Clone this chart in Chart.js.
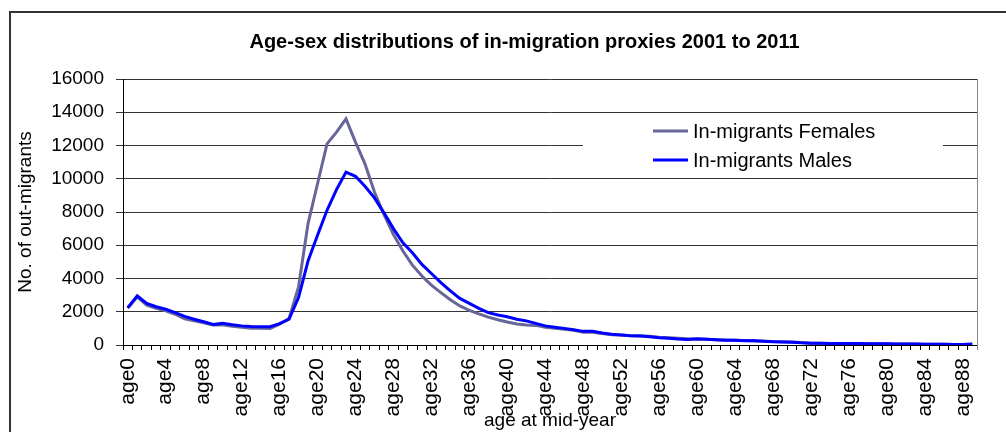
<!DOCTYPE html>
<html>
<head>
<meta charset="utf-8">
<title>Age-sex distributions of in-migration proxies 2001 to 2011</title>
<script src="https://cdn.jsdelivr.net/npm/chart.js@4.4.1/dist/chart.umd.min.js"></script>
<style>
    html, body { margin: 0; padding: 0; background: #fff; overflow: hidden; }
    #frame { position: absolute; left: 9px; top: 11px; width: 1100px; height: 500px; border: 2px solid #333; }
    #wrap { position: absolute; left: 0; top: 0; width: 1006px; height: 432px; }
</style>
</head>
<body>
<div id="frame"></div>
<div id="wrap"><canvas id="migration-chart"></canvas></div>
<script>
// Categories (single years of age)
const ages = [
    'age0', 'age1', 'age2', 'age3', 'age4', 'age5', 'age6', 'age7', 'age8', 'age9',
    'age10', 'age11', 'age12', 'age13', 'age14', 'age15', 'age16', 'age17', 'age18', 'age19',
    'age20', 'age21', 'age22', 'age23', 'age24', 'age25', 'age26', 'age27', 'age28', 'age29',
    'age30', 'age31', 'age32', 'age33', 'age34', 'age35', 'age36', 'age37', 'age38', 'age39',
    'age40', 'age41', 'age42', 'age43', 'age44', 'age45', 'age46', 'age47', 'age48', 'age49',
    'age50', 'age51', 'age52', 'age53', 'age54', 'age55', 'age56', 'age57', 'age58', 'age59',
    'age60', 'age61', 'age62', 'age63', 'age64', 'age65', 'age66', 'age67', 'age68', 'age69',
    'age70', 'age71', 'age72', 'age73', 'age74', 'age75', 'age76', 'age77', 'age78', 'age79',
    'age80', 'age81', 'age82', 'age83', 'age84', 'age85', 'age86', 'age87', 'age88', 'age89'
];

// In-migrants, females
const females = [
    2200, 2900, 2400, 2200, 2050, 1850, 1580, 1450, 1330, 1200,
    1220, 1130, 1060, 1010, 1000, 1000, 1250, 1600, 3500, 7300,
    9700, 12100, 12800, 13600, 12200, 10900, 9200, 7850, 6650, 5650,
    4800, 4150, 3600, 3150, 2720, 2350, 2080, 1870, 1680, 1520,
    1380, 1260, 1200, 1180, 1060, 1000, 950, 880, 760, 760,
    690, 620, 600, 560, 550, 520, 470, 440, 410, 370,
    350, 340, 320, 300, 280, 270, 250, 230, 210, 200,
    180, 150, 110, 100, 95, 90, 90, 85, 80, 75,
    70, 65, 60, 55, 50, 45, 40, 35, 30, 40
];

// In-migrants, males
const males = [
    2250, 2950, 2500, 2300, 2150, 1950, 1720, 1550, 1400, 1230,
    1300, 1220, 1150, 1110, 1100, 1100, 1280, 1550, 2850, 5050,
    6600, 8100, 9350, 10400, 10150, 9550, 8850, 7950, 7000, 6150,
    5550, 4850, 4300, 3750, 3250, 2800, 2500, 2200, 1950, 1800,
    1700, 1550, 1450, 1300, 1150, 1070, 1000, 920, 820, 830,
    720, 640, 600, 560, 540, 500, 430, 410, 360, 330,
    380, 340, 310, 290, 290, 260, 250, 220, 190, 180,
    170, 130, 110, 100, 95, 90, 90, 85, 80, 75,
    70, 65, 60, 55, 50, 45, 40, 35, 30, 60
];

const seriesLabels = ['In-migrants Females', 'In-migrants Males'];
const seriesColors = ['#666699', '#0000ff'];

const FONT = 'Arial, "Liberation Sans", sans-serif';
Chart.defaults.font.family = FONT;
Chart.defaults.color = '#000';

/**
 * Legend drawn inside the plot area on a white box (Excel style)
 */
const insideLegend = {
    id: 'insideLegend',
    afterLayout(chart, args, opts) {
        // the chart title is centred over the whole frame, not only the canvas box
        if (chart.titleBlock) {
            chart.titleBlock.left += opts.titleShift;
        }
    },
    beforeDatasetsDraw(chart, args, opts) {
        const ctx = chart.ctx;
        const area = chart.chartArea;
        const x0 = area.left + opts.offsetX;
        const y0 = area.top + opts.offsetY;

        ctx.save();
        ctx.fillStyle = '#fff';
        ctx.fillRect(x0, y0, opts.width, opts.height);

        ctx.font = opts.fontSize + 'px ' + FONT;
        ctx.textBaseline = 'middle';
        ctx.fillStyle = '#000';
        chart.data.datasets.forEach((ds, i) => {
            const y = y0 + opts.firstRow + i * opts.rowGap;
            ctx.strokeStyle = ds.borderColor;
            ctx.lineWidth = 3;
            ctx.beginPath();
            ctx.moveTo(x0 + opts.lineStart, y);
            ctx.lineTo(x0 + opts.lineStart + opts.lineLength, y);
            ctx.stroke();
            ctx.fillText(ds.label, x0 + opts.lineStart + opts.lineLength + 5, y + 1);
        });
        ctx.restore();
    },
    afterDraw(chart) {
        // gray frame line on the right side of the plot area
        const ctx = chart.ctx;
        const area = chart.chartArea;
        ctx.save();
        ctx.strokeStyle = '#888';
        ctx.lineWidth = 1;
        ctx.beginPath();
        ctx.moveTo(Math.round(area.right) + 0.5, area.top);
        ctx.lineTo(Math.round(area.right) + 0.5, area.bottom + 5);
        ctx.stroke();
        ctx.restore();
    }
};

const ctx = document.getElementById('migration-chart').getContext('2d');
const migrationChart = new Chart(ctx, {
    type: 'line',
    data: {
        labels: ages,
        datasets: [
            {
                label: seriesLabels[0],
                data: females,
                borderColor: seriesColors[0],
                backgroundColor: seriesColors[0],
                borderWidth: 3,
                pointRadius: 0,
                tension: 0,
                order: 1
            },
            {
                label: seriesLabels[1],
                data: males,
                borderColor: seriesColors[1],
                backgroundColor: seriesColors[1],
                borderWidth: 3,
                pointRadius: 0,
                tension: 0,
                order: 0
            }
        ]
    },
    options: {
        responsive: true,
        maintainAspectRatio: false,
        animation: false,
        layout: { padding: { left: 0, right: 29, top: 0, bottom: 0 } },
        plugins: {
            legend: { display: false },
            tooltip: { enabled: false },
            title: {
                display: true,
                text: 'Age-sex distributions of in-migration proxies 2001 to 2011',
                color: '#000',
                font: { size: 20, weight: 'bold' },
                padding: { top: 30, bottom: 25 }
            },
            insideLegend: {
                titleShift: 72,
                offsetX: 460,
                offsetY: 36,
                width: 360,
                height: 61,
                lineStart: 70,
                lineLength: 35,
                firstRow: 16,
                rowGap: 29,
                fontSize: 20
            }
        },
        scales: {
            x: {
                offset: true,
                afterFit: function(scale) { scale.height = 87; },
                grid: {
                    offset: true,
                    drawOnChartArea: false,
                    drawTicks: true,
                    tickLength: 5,
                    color: '#000'
                },
                border: { display: true, color: '#000', width: 1 },
                ticks: {
                    autoSkip: false,
                    maxRotation: 90,
                    minRotation: 90,
                    padding: 8,
                    font: { size: 21 },
                    callback: function(value, index) {
                        return index % 4 === 0 ? this.getLabelForValue(value) : '';
                    }
                },
                title: {
                    display: true,
                    text: 'age at mid-year',
                    font: { size: 19 },
                    padding: 0
                }
            },
            y: {
                min: 0,
                max: 16000,
                afterFit: function(scale) { scale.width = 123; },
                grid: {
                    color: '#333',
                    tickLength: 7
                },
                border: { display: true, color: '#000', width: 1 },
                ticks: {
                    stepSize: 2000,
                    padding: 12,
                    font: { size: 19 },
                    callback: function(value) { return String(value); }
                },
                title: {
                    display: true,
                    text: 'No. of out-migrants',
                    font: { size: 19 },
                    padding: { top: 14, bottom: 0 }
                }
            }
        }
    },
    plugins: [insideLegend]
});
</script>
</body>
</html>
